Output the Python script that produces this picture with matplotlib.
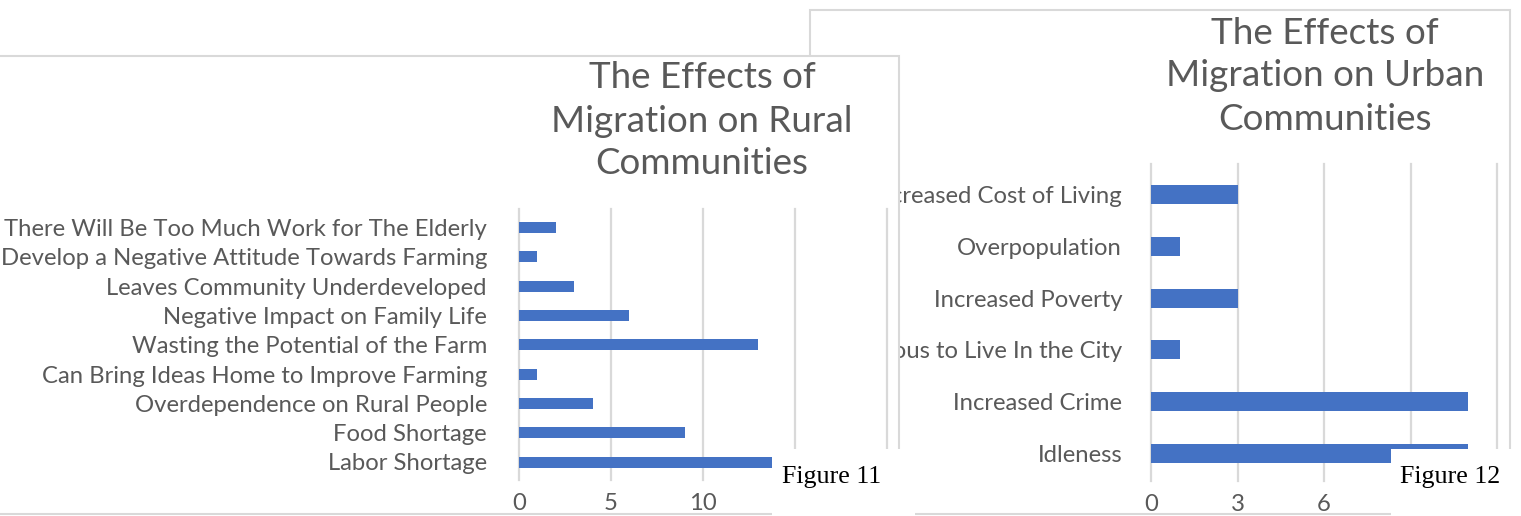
import matplotlib
matplotlib.use("Agg")
import matplotlib.pyplot as plt
from matplotlib.patches import Rectangle

# ---------------------------------------------------------------- data
# categories listed bottom-to-top, as the category axis plots them
rural_categories = [
    "Labor Shortage",
    "Food Shortage",
    "Overdependence on Rural People",
    "Can Bring Ideas Home to Improve Farming",
    "Wasting the Potential of the Farm",
    "Negative Impact on Family Life",
    "Leaves Community Underdeveloped",
    "Develop a Negative Attitude Towards Farming",
    "There Will Be Too Much Work for The Elderly",
]
rural_counts = [14, 9, 4, 1, 13, 6, 3, 1, 2]
rural_ticks = [0, 5, 10, 15, 20]
rural_title = ["The Effects of", "Migration on Rural", "Communities"]

urban_categories = [
    "Idleness",
    "Increased Crime",
    "Dangerous to Live In the City",
    "Increased Poverty",
    "Overpopulation",
    "Increased Cost of Living",
]
urban_counts = [11, 11, 1, 3, 1, 3]
urban_ticks = [0, 3, 6, 9, 12]
urban_title = ["The Effects of", "Migration on Urban", "Communities"]

captions = ["Figure 11", "Figure 12"]

# ---------------------------------------------------------------- style
W, H, DPI = 1521, 516, 100
BLUE = "#4472C4"
GRID = "#D9D9D9"
TEXT = "#595959"
SANS = "Lato"
SERIF = "Liberation Serif"

fig = plt.figure(figsize=(W / DPI, H / DPI), dpi=DPI)
fig.patch.set_facecolor("white")
renderer = fig.canvas.get_renderer()


def fx(px):
    return px / W


def fy(py):
    return 1 - py / H


def pt(px):
    return px * 72 / DPI


def sheet(x0, y0, x1, y1, z, edge=True):
    """White sheet (chart area or caption box) given in pixel corners."""
    fig.add_artist(Rectangle(
        (fx(x0), fy(y1)), fx(x1) - fx(x0), fy(y0) - fy(y1),
        transform=fig.transFigure, facecolor="white",
        edgecolor=GRID if edge else "none", linewidth=1.5, zorder=z))


def fitted_size(texts, target_px, family):
    """Font size whose rendered widths add up to target_px."""
    base = 20.0
    total = 0.0
    for s in texts:
        t = fig.text(0, 0, s, fontsize=base, family=family)
        total += t.get_window_extent(renderer).width
        t.remove()
    return base * target_px / total


def bar_chart(cats, vals, ticks, box, centers, bar_px, size, label_pad, z):
    left, right, top, bottom = box
    first_c, last_c = centers           # pixel centres of top and bottom bars
    n = len(cats)
    pitch = (last_c - first_c) / (n - 1)
    ax = fig.add_axes([fx(left), fy(bottom), fx(right) - fx(left),
                       fy(top) - fy(bottom)], zorder=z)
    ax.set_facecolor("none")
    pos = list(range(n))
    ax.barh(pos, vals, height=bar_px / pitch, color=BLUE, zorder=3)
    ax.set_ylim(-(bottom - last_c) / pitch, (n - 1) + (first_c - top) / pitch)
    ax.set_xlim(ticks[0], ticks[-1])
    ax.set_xticks(ticks)
    ax.set_yticks(pos, cats)
    ax.grid(axis="x", color=GRID, linewidth=1.6)
    ax.set_axisbelow(True)
    for gl in ax.get_xgridlines():
        gl.set_clip_on(False)
    for sp in ax.spines.values():
        sp.set_visible(False)
    ax.tick_params(axis="both", length=0, labelcolor=TEXT, labelsize=size)
    ax.tick_params(axis="y", pad=pt(label_pad))
    ax.tick_params(axis="x", pad=pt(13))
    for lab in ax.get_xticklabels() + ax.get_yticklabels():
        lab.set_family(SANS)
    return ax


def title(lines, cx, ys, size, z):
    for s, y in zip(lines, ys):
        fig.text(fx(cx), fy(y), s, ha="center", va="center", fontsize=size,
                 family=SANS, color=TEXT, zorder=z)


# ---------------------------------------------------------------- urban chart (behind)
sheet(810, 10, 1510, 513.5, z=0.5)
urban_size = fitted_size(["Increased Crime", "Overpopulation", "Increased Poverty"],
                         172 + 164 + 190, SANS)
bar_chart(urban_categories, urban_counts, urban_ticks,
          box=(1151, 1497, 164, 481), centers=(194.5, 453.5), bar_px=19,
          size=urban_size, label_pad=29, z=1)
urban_title_size = fitted_size(["Migration on Urban", "Communities"], 320 + 214, SANS)
title(urban_title, 1325, (33, 76, 119), urban_title_size, z=1.2)

# ---------------------------------------------------------------- rural chart (in front)
sheet(-10, 56, 899, 513.5, z=2)
rural_size = fitted_size(["There Will Be Too Much Work for The Elderly",
                          "Labor Shortage", "Wasting the Potential of the Farm"],
                         477 + 161 + 364, SANS)
bar_chart(rural_categories, rural_counts, rural_ticks,
          box=(519, 887, 209, 480), centers=(227.5, 462), bar_px=11,
          size=rural_size, label_pad=32, z=3)
rural_title_size = fitted_size(["Migration on Rural", "Communities"], 302 + 214, SANS)
title(rural_title, 702, (78, 121, 164), rural_title_size, z=3.2)

# ---------------------------------------------------------------- captions
cap_size = fitted_size(captions, 98 + 102, SERIF)
sheet(772, 449, 915, 530, z=5, edge=False)
sheet(1391, 449, 1530, 530, z=5, edge=False)
fig.text(fx(782), fy(477), captions[0], ha="left", va="center",
         fontsize=cap_size, family=SERIF, color="black", zorder=6)
fig.text(fx(1400), fy(477), captions[1], ha="left", va="center",
         fontsize=cap_size, family=SERIF, color="black", zorder=6)

fig.savefig("out.png", dpi=DPI, facecolor="white")
